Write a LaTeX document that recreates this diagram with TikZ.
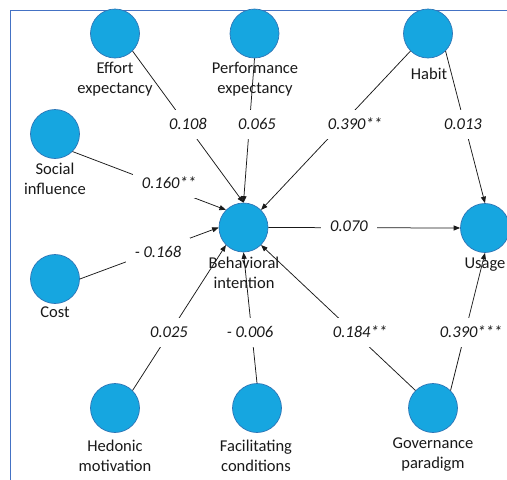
\documentclass[tikz,border=0pt]{standalone}
\usepackage{fontspec}
\setmainfont{Carlito}
\usetikzlibrary{arrows.meta}

\definecolor{bubble}{RGB}{22,166,224}
\definecolor{bubbleedge}{RGB}{46,117,182}
\definecolor{frameblue}{RGB}{68,114,196}
\definecolor{ink}{RGB}{25,25,25}

\begin{document}
\begin{tikzpicture}[x=1pt,y=-1pt,
  construct/.style={circle,fill=bubble,draw=bubbleedge,line width=0.7pt,
                    minimum size=49pt,inner sep=0pt},
  caption/.style={align=center,anchor=north,inner sep=0pt,text=ink,
                  font=\fontsize{16.5}{20}\selectfont},
  link/.style={draw=ink,line width=0.75pt,-{Triangle[length=6.5pt,width=5pt]}},
  coef/.style={fill=white,text=ink,inner xsep=9pt,inner ysep=9pt,
               text height=11pt,text depth=0pt,
               font=\fontsize{16.5}{20}\selectfont\itshape}
]
\useasboundingbox (0,0) rectangle (507,480);

% open frame along the top and left edges
\draw[frameblue,line width=0.9pt] (507,10.5) -- (10,10.5) -- (10,480);

% constructs
\node[construct] (ee) at (115,33.5) {};
\node[construct] (pe) at (254.5,33.5) {};
\node[construct] (hb) at (428,33.5) {};
\node[construct] (si) at (55,134) {};
\node[construct] (co) at (55,279) {};
\node[construct] (bi) at (243.5,227.5) {};
\node[construct] (us) at (485,228) {};
\node[construct] (hm) at (115,408) {};
\node[construct] (fc) at (257,408) {};
\node[construct] (gp) at (433,408) {};

% construct names
\node[caption] (tee) at (115,62) {Effort\\expectancy};
\node[caption] (tpe) at (255,62) {Performance\\expectancy};
\node[caption] (thb) at (429,68) {Habit};
\node[caption] (tsi) at (55,163) {Social\\influence};
\node[caption] (tco) at (55,307) {Cost};
\node[caption] (tbi) at (244,257) {Behavioral\\intention};
\node[caption] (tus) at (485,258) {Usage};
\node[caption] (thm) at (115,440) {Hedonic\\motivation};
\node[caption] (tfc) at (256,440) {Facilitating\\conditions};
\node[caption] (tgp) at (433,438) {Governance\\paradigm};

% structural paths
\draw[link] (ee.-45)  -- (bi.north);
\draw[link] (pe.south) -- (bi.north);
\draw[link] (hb.-135) -- (bi.45);
\draw[link] (hb.-45)  -- (us.north);
\draw[link] (si.-45)  -- (bi.135);
\draw[link] (co.east) -- (bi.west);
\draw[link] (bi.east) -- (us.west);
\draw[link] (hm.45)   -- (bi.-135);
\draw[link] (fc.north) -- (bi.south);
\draw[link] (gp.135)  -- (bi.-45);
\draw[link] (gp.45)   -- (us.south);

% path coefficients
\node[coef] (cee) at (188,124) {0.108};
\node[coef] (cpe) at (257,124) {0.065};
\node[coef] (chb) at (355,124) {0.390**};
\node[coef] (chu) at (463,124) {0.013};
\node[coef] (csi) at (169,183) {0.160**};
\node[coef] (cco) at (158,252) {- 0.168};
\node[coef] (cbu) at (349,226) {0.070};
\node[coef] (chm) at (169,332) {0.025};
\node[coef] (cfc) at (250,332) {- 0.006};
\node[coef] (cgp) at (360,332) {0.184**};
\node[coef] (cgu) at (471,332) {0.390***};
\end{tikzpicture}
\end{document}
